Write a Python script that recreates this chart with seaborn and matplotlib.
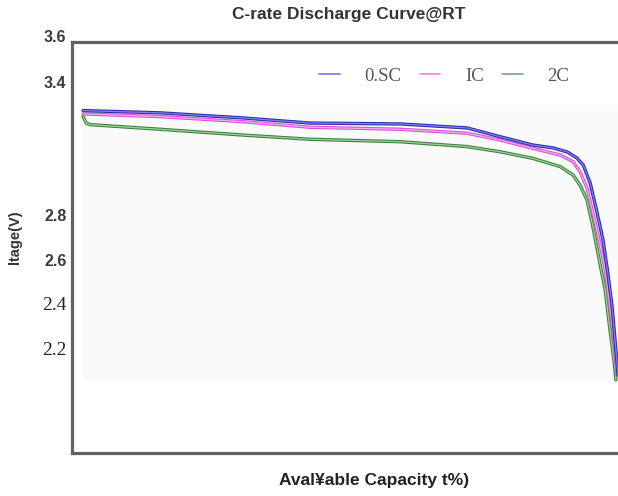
import numpy as np
import pandas as pd
import seaborn as sns
import matplotlib.pyplot as plt
from matplotlib.lines import Line2D
import matplotlib.patheffects as pe

# Discharge curves: available capacity (%) vs. voltage (V)
capacity_05c = [0, 14.4, 29.9, 42.4, 59.3, 71.8, 77.9, 84.1, 87.9, 90.5, 92.3,
                93.5, 94.8, 96.1, 97.2, 98.1, 98.9, 99.4, 100.0]
voltage_05c = [3.270, 3.260, 3.237, 3.214, 3.210, 3.192, 3.153, 3.115, 3.102,
               3.084, 3.057, 3.025, 2.944, 2.809, 2.688, 2.539, 2.387, 2.251, 2.081]

capacity_1c = [0, 14.4, 29.9, 42.4, 59.3, 71.8, 77.9, 84.1, 89.2, 91.6, 92.9,
               94.2, 95.3, 96.6, 97.6, 98.5, 99.3, 99.8]
voltage_1c = [3.255, 3.243, 3.220, 3.195, 3.186, 3.168, 3.138, 3.100, 3.070,
              3.040, 2.995, 2.922, 2.809, 2.674, 2.553, 2.387, 2.224, 2.081]

capacity_2c = [0, 0.6, 1.3, 14.4, 29.9, 42.4, 59.3, 71.8, 77.9, 84.1, 89.2,
               91.6, 92.9, 94.2, 95.3, 96.6, 97.6, 98.5, 99.3, 99.6]
voltage_2c = [3.243, 3.214, 3.207, 3.186, 3.160, 3.141, 3.130, 3.108, 3.085,
              3.055, 3.018, 2.980, 2.935, 2.868, 2.748, 2.584, 2.463, 2.283,
              2.135, 2.058]

rate_labels = ["0.SC", "IC", "2C"]
ytick_values = [3.6, 3.4, 2.8, 2.6, 2.4, 2.2]
ytick_labels = ["3.6", "3.4", "2.8", "2.6", "2.4", "2.2"]

frames = []
for name, cap, volt in zip(rate_labels,
                           [capacity_05c, capacity_1c, capacity_2c],
                           [voltage_05c, voltage_1c, voltage_2c]):
    frames.append(pd.DataFrame({"capacity": cap, "voltage": volt, "rate": name}))
df = pd.concat(frames, ignore_index=True)

sns.set_style("white")
plt.rcParams["font.family"] = ["Liberation Sans", "DejaVu Sans"]

outer = {"0.SC": "#2e2ea0", "IC": "#d452d4", "2C": "#3d7d3d"}
inner = {"0.SC": "#7d7dff", "IC": "#f7a8f7", "2C": "#96d696"}
legend_col = {"0.SC": "#7575ea", "IC": "#ea82ea", "2C": "#78a878"}

fig = plt.figure(figsize=(6.18, 4.96), dpi=100)
ax = fig.add_axes([72 / 618, 1 - 453 / 496, (624 - 72) / 618, (453 - 42) / 496])

# faint plotting area behind the curves
ax.fill_between([0, 100], 2.054, 3.295, color="#fafafa", lw=0, zorder=0)

for z, name in zip([4, 3, 2], rate_labels):
    sub = df[df["rate"] == name]
    sns.lineplot(data=sub, x="capacity", y="voltage", color=outer[name],
                 estimator=None, sort=False, lw=2.4, ax=ax, legend=False,
                 zorder=z)
    line = ax.get_lines()[-1]
    line.set_path_effects([pe.Normal(),
                           pe.Stroke(linewidth=0.9, foreground=inner[name])])
    line.set_solid_capstyle("round")
    line.set_solid_joinstyle("round")

ax.set_xlim(-2.06, 101.12)
ax.set_ylim(1.7297, 3.5786)
ax.set_xticks([])
ax.set_xlabel("")
ax.set_ylabel("")

ax.set_yticks(ytick_values[1:])
ax.set_yticklabels(ytick_labels[1:])
ax.tick_params(axis="y", length=0, pad=4)
for lbl in ax.get_yticklabels():
    if lbl.get_text() in ("2.4", "2.2"):
        lbl.set_fontfamily("Liberation Serif")
        lbl.set_fontsize(14)
        lbl.set_color("#222222")
    else:
        lbl.set_fontfamily("Liberation Sans")
        lbl.set_fontweight("bold")
        lbl.set_fontsize(11.5)
        lbl.set_color("#3a3a3a")

# top label sits above the frame
ax.annotate(ytick_labels[0], xy=(0, ytick_values[0]),
            xycoords=("axes fraction", "data"), xytext=(-4, 0),
            textcoords="offset points", ha="right", va="center",
            fontsize=11.5, fontweight="bold", color="#3a3a3a",
            annotation_clip=False)

for side in ["left", "top", "bottom"]:
    ax.spines[side].set_color("#626262")
    ax.spines[side].set_linewidth(2.3)
ax.spines["right"].set_visible(False)

handles = [Line2D([], [], color=legend_col[n], lw=1.2) for n in rate_labels]
ax.legend(handles, rate_labels, ncol=3, frameon=False, loc="center left",
          bbox_to_anchor=(319 / 618, 1 - 76 / 496), bbox_transform=fig.transFigure,
          borderpad=0, borderaxespad=0, handlelength=1.1, handletextpad=1.33,
          columnspacing=0.96,
          prop={"family": "Liberation Serif", "size": 13.5},
          labelcolor="#555555")

fig.text(349 / 618, 1 - 15 / 496, "C-rate Discharge Curve@RT", ha="center",
         va="center", fontsize=12.5, fontweight="bold", color="#333333")
fig.text(374 / 618, 1 - 481 / 496, "Aval¥able Capacity t%)", ha="center",
         va="center", fontsize=12.5, fontweight="bold", color="#222222")
fig.text(15 / 618, 1 - 237 / 496, "ltage(V)", ha="center", va="center",
         rotation=90, fontsize=10.5, fontweight="bold", color="#333333")

fig.savefig("out.png", dpi=100)
